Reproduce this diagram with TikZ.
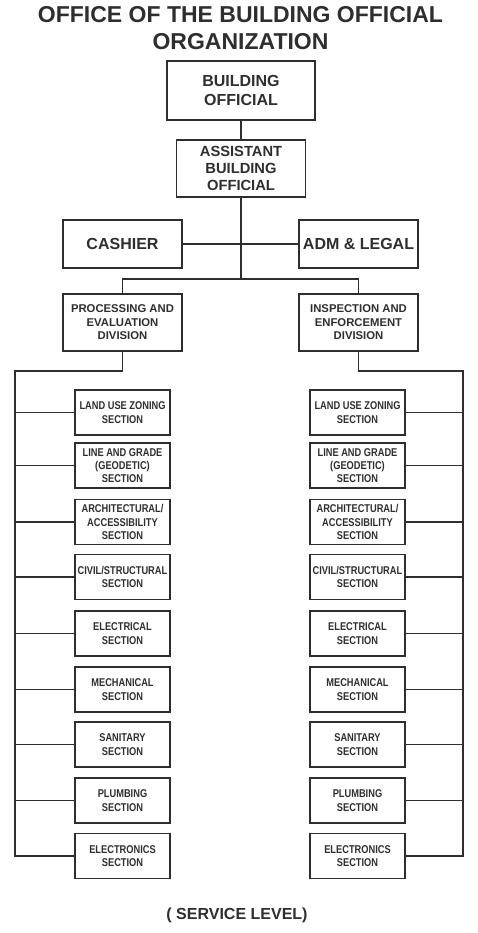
\documentclass[tikz,border=0pt]{standalone}
\usepackage{fontspec}
\setmainfont{Liberation Sans}
\newfontfamily\narrowfont[FakeStretch=0.82]{Liberation Sans}
\definecolor{ink}{HTML}{2E2E2E}
\begin{document}
\begin{tikzpicture}[x=1pt,y=-1pt,
  every node/.style={text=ink},
  box/.style={draw=ink,line width=1.3pt,inner sep=0pt,align=center},
  bigbox/.style={box,font=\bfseries\fontsize{16}{19}\selectfont},
  divbox/.style={box,minimum width=119pt,minimum height=57pt,font=\bfseries\fontsize{11.3}{13.5}\selectfont},
  secbox/.style={box,minimum width=95pt,minimum height=45pt,font=\narrowfont\bfseries\fontsize{11.3}{13.3}\selectfont},
  link/.style={draw=ink,line width=1.2pt},
  titletext/.style={font=\bfseries\fontsize{23}{27}\selectfont,inner sep=0pt}]
\useasboundingbox (0,0) rectangle (477,933);
% title
\node[titletext] (t1) at (240.5,15) {OFFICE OF THE BUILDING OFFICIAL};
\node[titletext] (t2) at (240.5,41.5) {ORGANIZATION};
% top boxes
\node[bigbox,minimum width=148pt,minimum height=59pt] (BO) at (241,90.5) {BUILDING\\OFFICIAL};
\node[bigbox,minimum width=129pt,minimum height=57pt,font=\bfseries\fontsize{14.7}{17}\selectfont] (ABO) at (241,168.5) {ASSISTANT\\BUILDING\\OFFICIAL};
\node[bigbox,minimum width=119pt,minimum height=48pt] (CA) at (122.5,244) {CASHIER};
\node[bigbox,minimum width=119pt,minimum height=48pt] (AL) at (358.5,244) {ADM \& LEGAL};
\node[divbox] (PED) at (122.5,322.5) {PROCESSING AND\\EVALUATION\\DIVISION};
\node[divbox] (IED) at (358.5,322.5) {INSPECTION AND\\ENFORCEMENT\\DIVISION};
% sections
\foreach \i/\y/\t in {1/412.5/{LAND USE ZONING\\SECTION},
                      2/465.5/{LINE AND GRADE\\(GEODETIC)\\SECTION},
                      3/522/{ARCHITECTURAL/\\ACCESSIBILITY\\SECTION},
                      4/577/{CIVIL/STRUCTURAL\\SECTION},
                      5/633.5/{ELECTRICAL\\SECTION},
                      6/689.5/{MECHANICAL\\SECTION},
                      7/744.5/{SANITARY\\SECTION},
                      8/800.5/{PLUMBING\\SECTION},
                      9/856/{ELECTRONICS\\SECTION}}{
  \node[secbox] (L\i) at (122.5,\y) {\t};
  \node[secbox] (R\i) at (357.5,\y) {\t};
}
% connectors
\coordinate (J) at (241,279);
\coordinate (LT) at (15,371);
\coordinate (RT) at (463,371);
\draw[link] (BO.south) -- (ABO.north);
\draw[link] (ABO.south) -- (J);
\draw[link] (CA.east) -- (AL.west);
\draw[link] (PED.north) |- (J) -| (IED.north);
\draw[link] (PED.south) |- (LT) -- (LT |- L9.west) -- (L9.west);
\draw[link] (IED.south) |- (RT) -- (RT |- R9.east) -- (R9.east);
\foreach \i in {1,...,8}{
  \draw[link] (LT |- L\i.west) -- (L\i.west);
  \draw[link] (RT |- R\i.east) -- (R\i.east);
}
% footer
\node[font=\bfseries\fontsize{16}{19}\selectfont,inner sep=0pt] (SL) at (237,915) {( SERVICE LEVEL)};
\end{tikzpicture}
\end{document}
